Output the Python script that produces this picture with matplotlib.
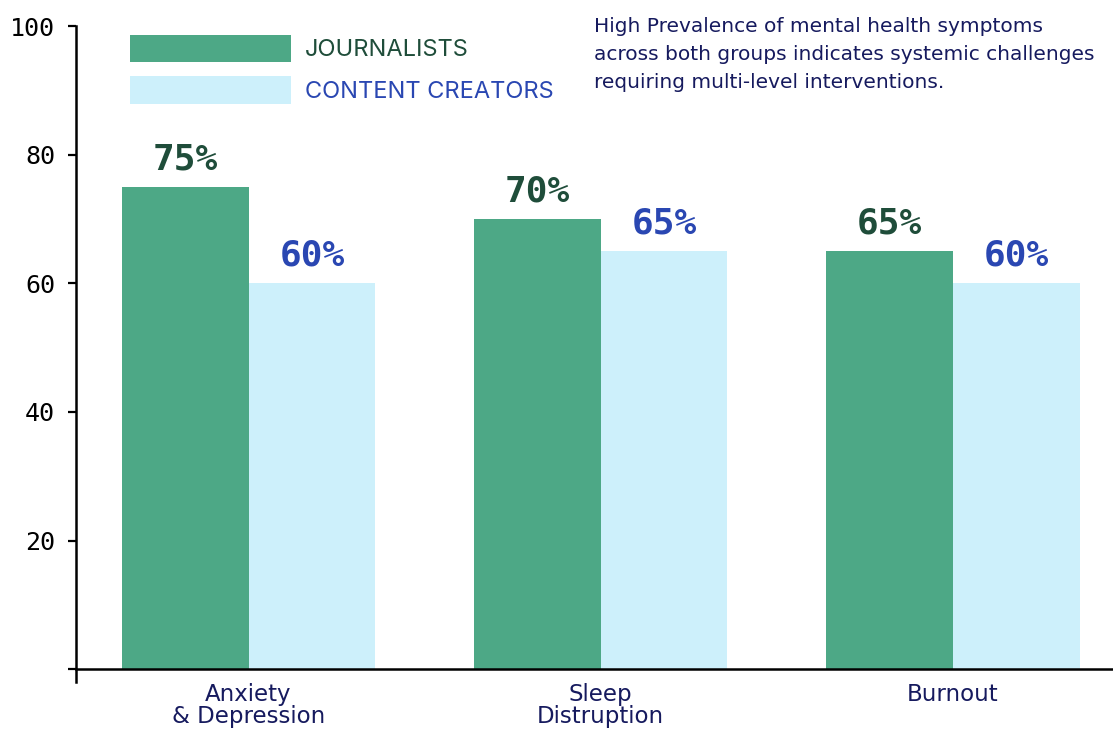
import numpy as np
import matplotlib
matplotlib.use('Agg')
import matplotlib.pyplot as plt

# data
categories = ['Anxiety\n& Depression', 'Sleep\nDistruption', 'Burnout']
journalists = [75, 70, 65]
creators = [60, 65, 60]
series_names = ['JOURNALISTS', 'CONTENT CREATORS']
yticks = [0, 20, 40, 60, 80, 100]
ytick_labels = ['', '20', '40', '60', '80', '100']
note = ('High Prevalence of mental health symptoms\n'
        'across both groups indicates systemic challenges\n'
        'requiring multi-level interventions.')

green = '#4da886'
light_blue = '#cdf0fb'
green_text = '#1f4d3a'
blue_text = '#2a47b2'
navy = '#161a5e'

fig = plt.figure(figsize=(11.13, 7.29), dpi=100)
ax = fig.add_axes([76 / 1113, 47 / 729, 1 - 76 / 1113, (682 - 26) / 729])

x = np.arange(len(categories))
w = 0.36
b1 = ax.bar(x - w / 2, journalists, w, color=green, label=series_names[0])
b2 = ax.bar(x + w / 2, creators, w, color=light_blue, label=series_names[1])

# value labels
for bars, vals, col in [(b1, journalists, green_text), (b2, creators, blue_text)]:
    for rect, v in zip(bars, vals):
        ax.text(rect.get_x() + rect.get_width() / 2, v + 1.6, f'{v}%', ha='center', va='bottom',
                fontsize=26, fontweight='bold', family='DejaVu Sans Mono', color=col)

ax.set_xlim(-0.49, 2.455)
ax.set_ylim(-2, 100)
ax.spines['top'].set_visible(False)
ax.spines['right'].set_visible(False)
ax.spines['bottom'].set_position(('data', 0))
for s in ['left', 'bottom']:
    ax.spines[s].set_linewidth(1.8)

ax.set_yticks(yticks)
ax.set_yticklabels(ytick_labels, family='DejaVu Sans Mono', fontsize=18)
ax.tick_params(axis='y', length=6, width=1.6, pad=9)
ax.set_xticks(x)
ax.set_xticklabels(categories, family='DejaVu Sans', fontsize=16.5, color=navy, linespacing=0.92)
ax.tick_params(axis='x', length=0, pad=10)

leg = ax.legend(loc='upper left', bbox_to_anchor=(130 / 1113, 1 - 35 / 729),
                bbox_transform=fig.transFigure, frameon=False,
                handlelength=6.8, handleheight=1.4, handletextpad=0.6,
                labelspacing=0.6, borderpad=0, borderaxespad=0,
                labelcolor=[green_text, blue_text], prop={'family': 'Inter', 'size': 17})

fig.text(594 / 1113, 1 - 17 / 729, note, ha='left', va='top', fontsize=14.5,
         family='DejaVu Sans', color=navy, linespacing=1.6)

fig.savefig('out.png', dpi=100)
